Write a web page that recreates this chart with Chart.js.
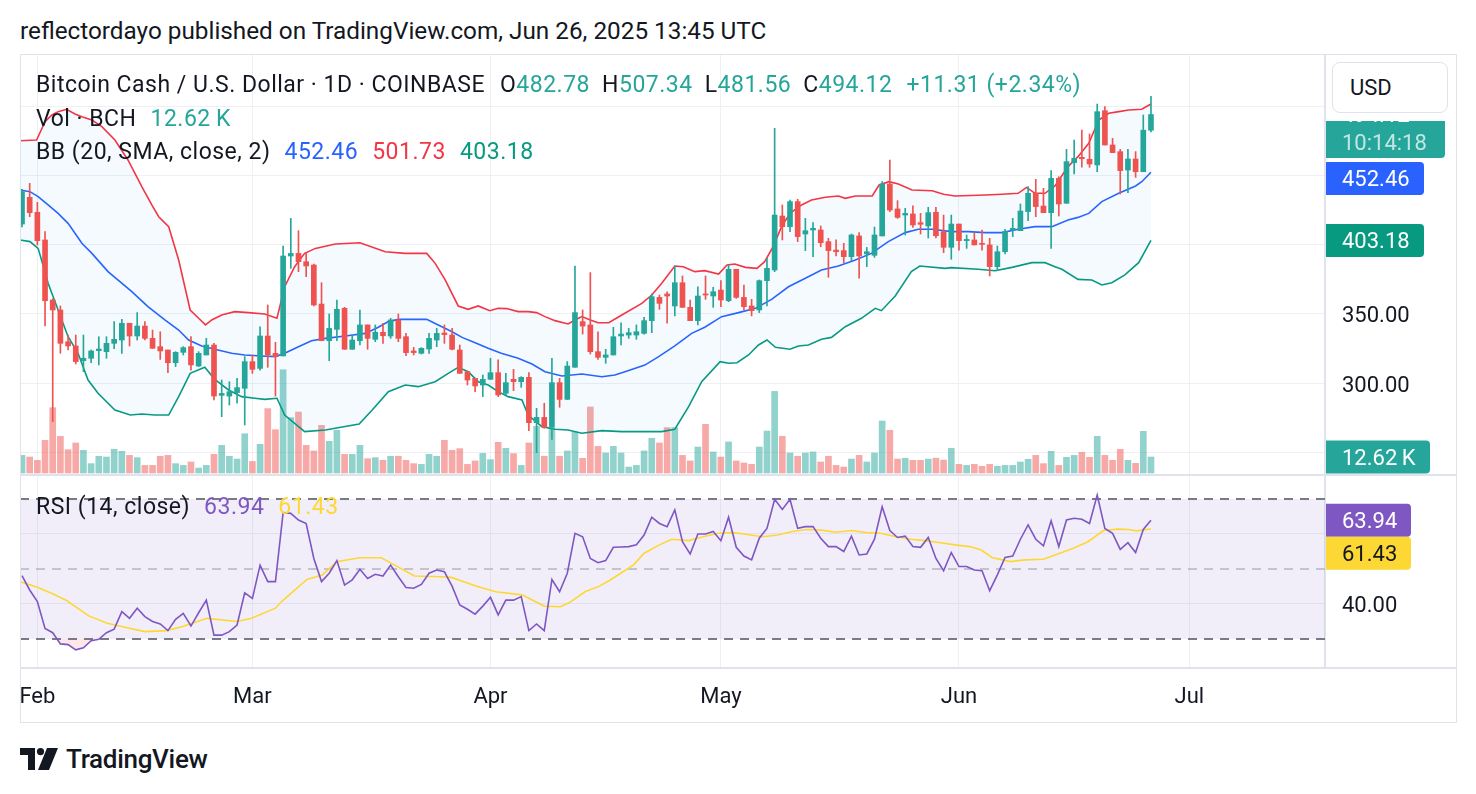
<!DOCTYPE html>
<html>
<head>
<meta charset="utf-8">
<title>BCHUSD 1D</title>
<script src="https://cdn.jsdelivr.net/npm/chart.js@4.4.1/dist/chart.umd.min.js"></script>
<style>
    body {
        margin: 0;
        width: 1476px;
        height: 794px;
        background: #fff;
        position: relative;
        overflow: hidden;
        font-family: Roboto, "Noto Sans", sans-serif;
        color: #131722;
    }
    canvas { position: absolute; }
    #published { position: absolute; left: 20px; top: 14px; font-size: 24.3px; line-height: 34px; white-space: nowrap; }
    .legend { position: absolute; left: 36px; font-size: 23px; letter-spacing: 0.5px; line-height: 30px; white-space: nowrap; }
    .legend .gap { margin-left: 14px; }
    .legend .k { margin-left: 12px; }
    .up { color: #26a69a; }
    .frame { position: absolute; left: 20px; top: 54px; width: 1435px; height: 667px; border: 1px solid #e0e3eb; pointer-events: none; }
    .sep { position: absolute; left: 20px; width: 1436px; height: 2px; background: #e0e3eb; }
    #usdWrap { position: absolute; left: 1326px; top: 55px; width: 129px; height: 66px; background: #fff; }
    #usd { position: absolute; left: 6px; top: 7px; border: 1px solid #e0e3eb; border-radius: 8px;
           font-size: 22px; line-height: 49px; padding-left: 17px; box-sizing: border-box; width: 116px; height: 51px; }
    #logo { position: absolute; left: 20px; top: 745px; height: 28px; display: flex; align-items: center; }
    #logo span { font-size: 26px; font-weight: 500; margin-left: 8px; letter-spacing: -0.3px; }
</style>
</head>
<body>
<div id="published">reflectordayo published on TradingView.com, Jun 26, 2025 13:45 UTC</div>

<canvas id="priceChart" width="1436" height="421" style="left:20px;top:54px"></canvas>
<canvas id="rsiChart" width="1436" height="246" style="left:20px;top:476px"></canvas>

<div class="sep" style="top:474px"></div>
<div class="sep" style="top:667px"></div>
<div class="frame"></div>
<div id="usdWrap"><div id="usd">USD</div></div>

<div class="legend" style="top:70px" id="legendMain"></div>
<div class="legend" style="top:104px" id="legendVol"></div>
<div class="legend" style="top:137px" id="legendBB"></div>
<div class="legend" style="top:492px" id="legendRsi"></div>

<div id="logo">
    <svg width="38" height="22" viewBox="0 0 38 22">
        <path d="M0 0 H15 V22 H8 V7 H0 Z" fill="#131722"/>
        <circle cx="20.5" cy="3.6" r="3.6" fill="#131722"/>
        <path d="M27 0 H38 L29 22 H18 Z" fill="#131722"/>
    </svg>
    <span>TradingView</span>
</div>

<script>
// daily candles, Jan 30 2025 (index 0) .. Jun 26 2025 (index 147)
const opens = [
    415, 434.3, 423.5, 403.5, 360.1, 352.9, 330, 326.9, 316.3, 318,
    323.5, 322.8, 328.8, 331.2, 343.3, 334.1, 341.3, 332.4, 326.4, 324,
    314.8, 322.3, 326.4, 312.4, 320.4, 327.6, 291.2, 290.7, 293.2, 296.3,
    315.6, 310.7, 334.1, 321.6, 319.7, 391.9, 393.8, 387.8, 385.4, 357.2,
    330.7, 338.9, 354.1, 324.5, 330.7, 342.1, 331.7, 336.8, 334.1, 345.7,
    333.6, 323.3, 321.6, 324.7, 331.2, 336.3, 334.8, 324, 308.3, 303.5,
    298.7, 302.8, 307.6, 292.7, 302.8, 301.1, 304.2, 271.5, 275.3, 268.1,
    300.4, 288.3, 311.5, 344.5, 342.1, 322.8, 318.7, 320.4, 334.1, 334.8,
    334.8, 336, 345.2, 362, 364.5, 355.8, 372.6, 354.8, 345.2, 364.5,
    363, 367.3, 359.6, 382.3, 362, 355.8, 352.9, 374.1, 381.8, 420.8,
    413.1, 431.2, 407.8, 410.7, 410.7, 402.3, 396.2, 395.8, 391.4, 406.4,
    393.4, 392.4, 406.4, 443.9, 425.9, 421.5, 422.3, 416, 413.6, 423.5,
    409.5, 398.2, 415, 403, 403.5, 401.1, 399.9, 384.2, 395, 410.7,
    410.2, 424, 437.2, 428, 423.2, 448, 430, 459.3, 463.2, 461.8,
    457.7, 496.9, 472.1, 467.3, 454, 462, 452.8, 482.78
];
const highs = [
    440, 444.4, 430.7, 409.5, 361, 355.8, 334.8, 334.8, 334.8, 324,
    333.6, 333.6, 344.5, 346.1, 343.3, 351, 344.5, 338.4, 337.2, 324,
    322.8, 326.4, 333.6, 322.8, 332.4, 328.8, 302.3, 301.1, 303.5, 319.2,
    320.4, 340.8, 356.5, 329.5, 399.1, 419.1, 410.2, 393.8, 386.1, 372.6,
    350, 360.1, 354.8, 334.8, 352.9, 342.1, 342.1, 343.3, 346.9, 350,
    336, 325.9, 325.7, 336, 339.6, 342.1, 339.6, 327.6, 308.3, 303.5,
    305.9, 318, 316.8, 307.1, 310, 304.7, 307.6, 281.8, 285.5, 318,
    303.5, 315.6, 384.7, 352.9, 379.9, 337.2, 324.5, 340.4, 343.7, 339.6,
    342.1, 347.6, 364.5, 363.7, 366.1, 384.7, 377.5, 360.1, 369.7, 377.5,
    369.3, 374.1, 385.4, 382.3, 370.9, 360.6, 374.6, 390.2, 484.2, 428.8,
    432.4, 432.9, 419.1, 416, 413.6, 404.7, 403.5, 401.1, 407.8, 408.8,
    398.1, 412.8, 445.6, 461.3, 431.9, 426.4, 428.1, 422.7, 427.1, 427.1,
    421.5, 421.5, 415, 407.1, 408.8, 410.7, 404.7, 399.1, 411.2, 419.1,
    429.5, 442, 447.3, 440.8, 453.6, 449.2, 469, 475.7, 482.9, 480.1,
    501.7, 499.8, 476.9, 469, 469, 467.3, 493.8, 507.34
];
const lows = [
    413, 420.3, 399.9, 341.3, 272.2, 321.6, 324, 313.9, 308.3, 314.8,
    313.2, 318, 325, 321.6, 326.9, 331.2, 331.2, 325.2, 317.2, 307.6,
    312, 320.4, 309.5, 312, 320.4, 287.9, 275.8, 284.2, 285.5, 269.8,
    307.1, 309.5, 311.5, 290.7, 319.7, 383, 380.6, 377, 355.8, 330.7,
    316.3, 330.7, 324.5, 324.5, 327.6, 324.5, 330, 328.8, 332.4, 330,
    319.9, 320.4, 321.1, 321.6, 326.4, 328.8, 324, 307.1, 298.7, 293.9,
    290.3, 302.8, 290.3, 291.5, 294.6, 297, 265.7, 249.8, 267.4, 259.4,
    282.6, 288.3, 311.5, 335.5, 321.1, 317.2, 314.4, 320.4, 327.6, 332.4,
    331.7, 335.5, 336.5, 353.4, 343.3, 348.6, 354.8, 345.2, 342.1, 360.6,
    354.8, 355.3, 358.9, 361.3, 352.9, 348.6, 351, 355.8, 380.6, 403.5,
    409.5, 402.3, 395.8, 391.4, 398.6, 376.5, 391.9, 387.1, 388.5, 375.8,
    384.2, 390.9, 406.4, 424, 419.1, 407.1, 412.6, 407.8, 404.9, 404.9,
    394.3, 389.5, 396.2, 397.4, 399.9, 396.2, 377.5, 381.3, 393.4, 405.9,
    410.2, 417.4, 420.3, 423.2, 397.4, 420.8, 430, 451.2, 456, 456,
    452.8, 472.1, 466.6, 436.7, 437.7, 448.7, 452.8, 481.56
];
const closes = [
    438.4, 423.2, 403, 359.6, 352.9, 328.8, 326.9, 315.6, 318, 323.3,
    324.7, 328.8, 331.7, 343.3, 334.1, 341.3, 332.4, 325.2, 323.3, 314.8,
    322.3, 325.7, 313.2, 321.6, 327.6, 290.7, 292.6, 293.9, 296.8, 315.6,
    310, 334.1, 320.4, 319.2, 391.9, 393.8, 387.8, 384.7, 356.5, 330.7,
    339.6, 353.4, 324.5, 331.2, 342.1, 332.4, 336.8, 334.3, 345.7, 332.4,
    322.1, 322.1, 325.2, 332.4, 336, 335.1, 324.5, 307.1, 302.3, 298,
    302.8, 307.6, 291.5, 300.4, 301.1, 304.2, 271.5, 275.3, 268.1, 300.4,
    288.3, 312.4, 351, 341.3, 322.8, 318.7, 320.4, 333.6, 335.5, 336.5,
    337.2, 345.2, 362.5, 357.7, 363, 372.6, 354.8, 345.2, 363, 363.7,
    366.1, 360.1, 382.3, 362, 355.3, 352.4, 374.1, 383, 421.5, 413.1,
    431.2, 405.9, 410.2, 411.9, 401.5, 395.8, 395, 391.4, 407.1, 391.9,
    395, 407.1, 443.9, 425.1, 419.8, 422.7, 414.3, 414.8, 423.2, 406.5,
    398.2, 415, 403, 403.9, 399.9, 400.3, 384.2, 395, 409.5, 411.9,
    424.4, 437.2, 427.6, 423.2, 448, 429.5, 460.1, 462.5, 462.2, 458.4,
    496.2, 472.1, 466.6, 453.6, 462, 452.8, 482.81, 494.12
];
// volume in thousands of BCH
const volumes = [
    13.9, 12.6, 10, 25.8, 51.5, 28.9, 18.4, 23.7, 17.9, 7.4,
    13.2, 12.6, 18.7, 17.1, 13.9, 12.1, 6, 6, 13.2, 13.9,
    7.4, 6, 8.7, 3.9, 6, 14.7, 21.8, 13.2, 11, 31,
    9.1, 22.6, 50.8, 34.2, 81.5, 43.7, 48.1, 21.8, 17.4, 37.6,
    25, 33.7, 14.7, 14.7, 21.8, 11.3, 12.1, 10, 13.2, 13.2,
    10, 7.4, 6.8, 14.7, 13.2, 25.8, 17.9, 19.2, 6.8, 9.5,
    15.5, 10.5, 24.2, 19.5, 15.3, 6, 23.7, 36.8, 13.2, 35,
    13.2, 17.4, 32.3, 11.6, 52.1, 21, 15.8, 21, 15.8, 4.7,
    6, 17.4, 27.4, 23.7, 35.8, 35.8, 13.9, 9.5, 20.5, 38.4,
    16.6, 12.6, 24.5, 9.5, 7.9, 6.8, 20.5, 33.1, 64.4, 28.9,
    15.8, 13.2, 15.8, 16.6, 8.7, 13.2, 6, 4.7, 11, 13.9,
    8.7, 15.8, 41, 33.7, 11, 11.6, 10, 10, 11, 11.7,
    10.2, 19.5, 6.8, 6, 6.8, 5.3, 6.8, 5.3, 6, 6,
    8.7, 10.8, 13.9, 7.4, 17.1, 6, 12.4, 13.9, 16.3, 12.4,
    28.9, 13.9, 10, 18.7, 10, 7.6, 32.9, 12.62
];

// Bollinger bands: [day index, price]
const bbUpper = [
    [-0.26, 475.2], [1.9, 475.7], [3.0, 489], [3.9, 493.8], [4.7, 496.2], [5.8, 497.9], [6.9, 494.5], [7.8, 492.6],
    [9.1, 490.2], [10.4, 485.4], [12.1, 475.7], [13.8, 461.3], [15.6, 442], [16.9, 428.8], [17.8, 420.3], [19.1, 413.1],
    [20.4, 389], [21.9, 352.9], [23.0, 346.9], [23.9, 342.1], [24.7, 345.7], [26.0, 349.3], [27.7, 351.7], [29.5, 351],
    [31.6, 350], [33.2, 346.9], [34.2, 369.7], [35.5, 384.2], [36.8, 393.8], [38.2, 397.4], [40.8, 400.6], [44.0, 401.5],
    [47.3, 395], [49.9, 393.8], [52.7, 393.8], [53.8, 386.6], [55.1, 374.6], [56.8, 355.8], [58.1, 353.4], [59.4, 355.8],
    [60.9, 352.4], [62.0, 354.1], [63.1, 353.9], [64.6, 351.7], [65.9, 351.7], [67.0, 351], [68.1, 348.1], [69.4, 345.2],
    [71.1, 342.8], [72.0, 345.7], [72.9, 348.1], [74.0, 345.7], [75.0, 343.7], [76.4, 343.7], [78.1, 349.3], [80.7, 357.7],
    [82.0, 363.7], [83.3, 372.2], [85.0, 384.7], [86.1, 384.2], [87.6, 380.6], [88.9, 381.3], [90.7, 378.9], [91.8, 385.4],
    [92.8, 386.1], [94.2, 383.7], [95.7, 383], [96.7, 387.8], [97.8, 398.7], [98.9, 413.1], [100.0, 422.7], [101.5, 428.8],
    [102.8, 432.4], [104.6, 434.3], [106.3, 435.3], [107.2, 433.6], [108.5, 435.3], [110.7, 435.3], [111.6, 443.2], [112.9, 445.6],
    [114.1, 443.9], [115.9, 439.6], [118.5, 439.1], [120.0, 436.5], [121.5, 435.3], [125.4, 436], [127.6, 436.5], [129.7, 437.2],
    [130.8, 441.5], [131.9, 437.2], [133.2, 437.2], [134.5, 442.5], [136.2, 456.5], [137.5, 463.7], [138.9, 473.3], [140.2, 490.2],
    [141.5, 495], [142.8, 496.2], [144.1, 497.4], [145.8, 497.9], [147, 501.73]
];
const bbMiddle = [
    [-0.26, 439.6], [1.04, 438.4], [2.1, 434.8], [3.4, 428.8], [4.7, 422.7], [6.0, 415.5], [7.8, 401.1], [9.1, 393.8],
    [11.2, 380.6], [14.3, 366.1], [16.4, 355.3], [18.6, 345.7], [20.4, 338.4], [21.7, 331.2], [23.4, 326.9], [25.1, 324.5],
    [27.3, 321.6], [29.0, 320.4], [31.2, 319.7], [33.0, 319.2], [34.2, 321.6], [36.0, 326.4], [37.7, 330.7], [39.5, 332.4],
    [42.1, 334.1], [44.7, 336], [46.4, 340.4], [47.7, 344.5], [49.0, 346.1], [52.7, 346.1], [54.2, 342.1], [56.0, 337.2],
    [57.3, 333.1], [59.0, 329.3], [60.7, 325.2], [62.4, 321.6], [64.6, 318], [66.4, 313.9], [68.1, 308.3], [70.3, 305.2],
    [72.9, 306.6], [75.5, 304.7], [77.2, 305.9], [78.9, 309], [81.1, 313.1], [82.9, 319.2], [85.0, 326.9], [87.2, 336],
    [88.9, 340.4], [91.1, 348.1], [93.3, 351], [95.5, 354.1], [97.6, 360.6], [99.8, 369.7], [102.0, 375.8], [104.1, 381.8],
    [106.3, 384.7], [108.5, 389], [110.6, 393.8], [112.8, 402.3], [115.0, 408.8], [116.7, 411.2], [118.5, 411.2], [121.0, 409.5],
    [123.2, 409.5], [125.4, 408.8], [127.6, 408.8], [129.7, 411.2], [131.9, 413.1], [134.1, 413.1], [136.2, 417.9], [137.5, 419.8],
    [138.9, 422.7], [140.6, 431.2], [142.8, 437.2], [145.0, 442.5], [145.8, 445.6], [147, 452.46]
];
const bbLower = [
    [-0.26, 403.5], [1.04, 402.3], [2.1, 397.4], [2.8, 384.2], [3.4, 372.2], [4.7, 352.9], [6.0, 333.6], [7.3, 321.6],
    [8.6, 302.3], [9.9, 292.7], [12.1, 280.6], [14.1, 277], [15.6, 277.7], [17.3, 277], [19.1, 277], [20.4, 290.3],
    [21.9, 307.1], [23.8, 311.5], [25.1, 302.8], [26.9, 295.1], [28.6, 290.3], [30.3, 289.1], [31.6, 288.3], [33.2, 289.1],
    [34.2, 277], [36.8, 265], [39.5, 266.2], [43.9, 270.5], [45.6, 280.6], [47.7, 293.9], [49.9, 298.7], [51.6, 297.5],
    [53.8, 301.1], [55.5, 307.1], [56.8, 311.5], [58.1, 308.3], [59.4, 301.1], [60.7, 298.7], [62.0, 293.9], [63.3, 290.3],
    [65.1, 287.9], [65.9, 277], [67.7, 268.6], [69.4, 266.7], [71.1, 266.2], [72.9, 263.8], [75.5, 265.7], [78.1, 265],
    [80.7, 265], [83.3, 265], [85.0, 266.7], [86.8, 283], [88.5, 301.1], [90.9, 315.6], [92.0, 314.4], [93.1, 314.8],
    [94.6, 320.4], [95.9, 327.6], [97.0, 331.2], [98.1, 325.9], [100.0, 324.5], [101.1, 326.9], [102.4, 327.6], [104.1, 331.7],
    [105.4, 333.1], [107.2, 340.8], [109.3, 346.9], [111.1, 354.1], [111.9, 352.4], [113.7, 363], [115.8, 380.6], [116.9, 384.7],
    [120.2, 383], [121.0, 383.5], [124.5, 382.3], [126.7, 381.3], [128.9, 383.7], [131.5, 387.1], [133.2, 387.1], [134.5, 384.2],
    [135.4, 382.3], [137.5, 375], [139.3, 374.6], [140.6, 371], [141.9, 372.6], [143.6, 378.2], [145.4, 387.1], [147, 403.18]
];

// RSI(14) per candle and its moving average
const rsi = [
    48.1, 44.0, 40.7, 33.0, 31.8, 28.6, 28.4, 26.9, 27.5, 29.5,
    29.9, 31.8, 32.8, 37.8, 35.9, 38.8, 36.4, 35.0, 34.3, 32.4,
    35.6, 37.3, 33.7, 37.5, 41.1, 31.1, 31.1, 32.1, 34.0, 43.2,
    41.6, 51.1, 46.4, 46.4, 66.1, 65.9, 64.0, 63.0, 53.0, 46.4,
    48.8, 52.4, 45.4, 46.9, 49.9, 47.3, 48.5, 48.0, 51.1, 47.8,
    44.7, 44.5, 45.6, 48.8, 49.7, 49.2, 45.1, 39.7, 38.5, 37.1,
    39.4, 41.9, 36.9, 41.1, 41.1, 42.1, 32.4, 34.3, 32.4, 47.0,
    43.5, 48.8, 60.2, 59.2, 53.0, 51.8, 52.4, 56.2, 56.3, 56.4,
    56.9, 59.7, 64.8, 63.0, 62.1, 66.9, 57.8, 54.3, 60.0, 60.0,
    60.7, 58.1, 64.8, 56.2, 53.7, 52.6, 58.8, 61.6, 69.9, 67.0,
    69.9, 61.6, 62.1, 62.1, 58.8, 56.4, 56.4, 55.0, 59.4, 54.0,
    54.3, 58.5, 67.8, 61.0, 59.0, 59.4, 56.4, 56.2, 59.0, 53.0,
    49.5, 54.7, 50.7, 50.7, 49.7, 49.5, 43.8, 48.3, 53.3, 53.7,
    58.5, 62.6, 58.5, 56.6, 63.8, 56.4, 64.0, 64.5, 64.2, 63.0,
    71.1, 61.6, 60.2, 55.6, 57.5, 54.7, 61.3, 63.94
];
const rsiMa = [
    [-0.3, 46.4], [2.0, 44.8], [3.9, 43], [5.8, 41], [8.7, 36.6], [11.1, 34.5], [13.1, 33.5], [16.0, 32.1],
    [18.8, 32.4], [20.8, 33.5], [24.1, 35.9], [28.0, 35], [29.9, 35.9], [33.0, 38.8], [33.8, 40.7], [37.1, 47],
    [39.1, 48.3], [41.0, 52.1], [43.9, 53.2], [46.8, 53.2], [48.7, 50.9], [51.1, 48], [54.5, 47.8], [55.9, 47.6],
    [59.3, 45], [61.7, 43.5], [65.1, 42.6], [68.0, 39.4], [70.1, 39.2], [71.3, 40.4], [73.3, 43.5], [75.2, 45.1],
    [76.7, 47], [78.1, 49], [79.6, 51.1], [81.0, 54.5], [83.0, 56.9], [84.6, 58.5], [86.8, 58.1], [88.7, 59.2],
    [90.7, 60.2], [92.6, 60.4], [94.0, 60], [96.4, 59.2], [98.4, 59.7], [100.3, 60.7], [102.2, 61.3], [104.1, 61.1],
    [106.0, 60.5], [108.0, 61], [109.9, 60.4], [111.8, 60.2], [113.8, 59.2], [115.7, 58.5], [117.6, 58.1], [119.6, 57.5],
    [121.5, 56.9], [123.4, 56.4], [124.9, 55.4], [126.3, 53.3], [128.7, 52.1], [130.6, 52.6], [133.0, 52.8], [134.5, 54],
    [136.9, 55.9], [138.8, 57.8], [140.8, 61], [142.7, 61.4], [144.1, 61.3], [145.1, 60.9], [147, 61.43]
];

// axis ticks
const monthTicks = [2, 30, 61, 91, 122, 152];
const monthLabels = ['Feb', 'Mar', 'Apr', 'May', 'Jun', 'Jul'];
const priceGrid = [250, 300, 350, 400, 450, 500];
const priceTickLabels = [300, 350];
const rsiGrid = [40, 60];
const rsiTickLabels = [40];
const rsiLevels = [30, 50, 70];
const countdown = '10:14:18';

const green = '#26a69a';
const red = '#ef5350';
const gridColor = '#eef0f4';
const axisFont = { family: 'Roboto', size: 22 };

const last = closes.length - 1;
const change = closes[last] - closes[last - 1];
const changePct = change / closes[last - 1] * 100;
const bbMidLast = bbMiddle[bbMiddle.length - 1][1];
const bbUpLast = bbUpper[bbUpper.length - 1][1];
const bbLowLast = bbLower[bbLower.length - 1][1];
const rsiMaLast = rsiMa[rsiMa.length - 1][1];

document.getElementById('legendMain').innerHTML =
    'Bitcoin Cash / U.S. Dollar · 1D · COINBASE' +
    `<span class="k" style="margin-left:15px">O</span><span class="up">${opens[last].toFixed(2)}</span>` +
    `<span class="k">H</span><span class="up">${highs[last].toFixed(2)}</span>` +
    `<span class="k">L</span><span class="up">${lows[last].toFixed(2)}</span>` +
    `<span class="k">C</span><span class="up">${closes[last].toFixed(2)}</span>` +
    `<span class="up gap">+${change.toFixed(2)} (+${changePct.toFixed(2)}%)</span>`;
document.getElementById('legendVol').innerHTML =
    `Vol · BCH<span class="up gap">${volumes[last].toFixed(2)}\u2009K</span>`;
document.getElementById('legendBB').innerHTML =
    'BB (20, SMA, close, 2)' +
    `<span class="gap" style="color:#2962ff">${bbMidLast.toFixed(2)}</span>` +
    `<span class="gap" style="color:#f23645">${bbUpLast.toFixed(2)}</span>` +
    `<span class="gap" style="color:#089981">${bbLowLast.toFixed(2)}</span>`;
document.getElementById('legendRsi').innerHTML =
    'RSI (14, close)' +
    `<span class="gap" style="color:#7e57c2">${rsi[last].toFixed(2)}</span>` +
    `<span class="gap" style="color:#fdd835">${rsiMaLast.toFixed(2)}</span>`;

// coloured value boxes on the right axis
const axisBoxes = {
    id: 'axisBoxes',
    afterDraw(chart, args, opts) {
        const ctx = chart.ctx;
        const x = chart.chartArea.right + 1;
        let lastBottom = -Infinity;
        ctx.save();
        ctx.font = '22px Roboto';
        ctx.textBaseline = 'middle';
        opts.items.forEach(item => {
            const y = chart.scales[item.axis].getPixelForValue(item.value);
            const h = item.sub ? 60 : 33;
            let top = y - 16.5;
            if (top < lastBottom + opts.gap) top = lastBottom + opts.gap;
            lastBottom = top + h;
            ctx.fillStyle = item.bg;
            ctx.beginPath();
            ctx.roundRect(x, top, item.w, h, [0, 4, 4, 0]);
            ctx.fill();
            ctx.fillStyle = item.color || '#fff';
            ctx.fillText(item.text, x + 16, top + 18.5);
            if (item.sub) {
                ctx.fillStyle = 'rgba(255,255,255,0.72)';
                ctx.fillText(item.sub, x + 16, top + 46.5);
            }
        });
        ctx.restore();
    }
};

// RSI background band and dashed levels
const rsiBand = {
    id: 'rsiBand',
    beforeDatasetsDraw(chart) {
        const { ctx, chartArea: a, scales: { y } } = chart;
        const top = y.getPixelForValue(rsiLevels[2]);
        const bottom = y.getPixelForValue(rsiLevels[0]);
        ctx.save();
        ctx.fillStyle = 'rgba(126, 87, 194, 0.1)';
        ctx.fillRect(a.left, top, a.right - a.left, bottom - top);
        ctx.setLineDash([9, 7]);
        rsiLevels.forEach(level => {
            const py = Math.round(y.getPixelForValue(level));
            ctx.strokeStyle = level === 50 ? '#b2b5be' : '#787b86';
            ctx.lineWidth = level === 50 ? 1.5 : 2;
            ctx.beginPath();
            ctx.moveTo(a.left, py);
            ctx.lineTo(a.right, py);
            ctx.stroke();
        });
        ctx.restore();
    }
};

// drop the label padding chart.js keeps around each axis
const noPad = s => {
    s.paddingTop = 0;
    s.paddingBottom = 0;
    s.paddingLeft = 0;
    s.paddingRight = 0;
};

const up = closes.map((c, i) => c >= opens[i]);

const xScale = {
    type: 'linear',
    min: -0.26,
    max: 169.66,
    offset: false,
    afterBuildTicks: s => { s.ticks = monthTicks.map(v => ({ value: v })); },
    grid: { color: gridColor, lineWidth: 1, drawTicks: false, offset: false },
    border: { display: false }
};

new Chart(document.getElementById('priceChart'), {
    type: 'bar',
    data: {
        datasets: [
            {
                type: 'bar',
                data: volumes.map((v, i) => ({ x: i, y: v })),
                yAxisID: 'yVol',
                backgroundColor: up.map(u => u ? 'rgba(38,166,154,0.5)' : 'rgba(239,83,80,0.5)'),
                barThickness: 6,
                grouped: false,
                order: 10
            },
            {
                type: 'line',
                data: bbUpper.map(([x, y]) => ({ x, y })),
                borderColor: '#f23645',
                backgroundColor: 'rgba(33,150,243,0.05)',
                borderWidth: 1.6,
                fill: '+2',
                pointRadius: 0,
                order: 5
            },
            {
                type: 'line',
                data: bbMiddle.map(([x, y]) => ({ x, y })),
                borderColor: '#2962ff',
                borderWidth: 1.6,
                fill: false,
                pointRadius: 0,
                order: 5
            },
            {
                type: 'line',
                data: bbLower.map(([x, y]) => ({ x, y })),
                borderColor: '#089981',
                borderWidth: 1.6,
                fill: false,
                pointRadius: 0,
                order: 5
            },
            {
                type: 'bar',
                data: highs.map((h, i) => ({ x: i, y: [lows[i], h] })),
                backgroundColor: up.map(u => u ? green : red),
                barThickness: 1,
                grouped: false,
                order: 2
            },
            {
                type: 'bar',
                data: opens.map((o, i) => ({ x: i, y: [o, closes[i]] })),
                backgroundColor: up.map(u => u ? green : red),
                barThickness: 5,
                minBarLength: 1,
                grouped: false,
                order: 1
            }
        ]
    },
    options: {
        responsive: false,
        animation: false,
        events: [],
        layout: { padding: 0 },
        plugins: {
            legend: { display: false },
            tooltip: { enabled: false },
            axisBoxes: {
                gap: 4,
                items: [
                    { axis: 'y', value: closes[last], text: closes[last].toFixed(2), sub: countdown, bg: green, w: 119 },
                    { axis: 'y', value: bbMidLast, text: bbMidLast.toFixed(2), bg: '#2962ff', w: 98 },
                    { axis: 'y', value: bbLowLast, text: bbLowLast.toFixed(2), bg: '#089981', w: 98 },
                    { axis: 'yVol', value: volumes[last], text: volumes[last].toFixed(2) + '\u2009K', bg: green, w: 104 }
                ]
            }
        },
        scales: {
            x: { ...xScale, ticks: { display: false }, afterFit: s => { s.height = 0; noPad(s); } },
            y: {
                position: 'right',
                min: 233.67,
                max: 537.86,
                afterBuildTicks: s => { s.ticks = priceGrid.map(v => ({ value: v })); },
                ticks: {
                    callback: v => priceTickLabels.includes(v) ? v.toFixed(2) : '',
                    color: '#131722',
                    font: axisFont,
                    padding: 17,
                    labelOffset: 3
                },
                grid: { color: gridColor, lineWidth: 1, drawTicks: false },
                border: { color: '#e0e3eb', width: 2 },
                afterFit: s => { s.width = 131; noPad(s); }
            },
            yVol: { display: false, min: -1.58, max: 330.6 }
        }
    },
    plugins: [axisBoxes]
});

new Chart(document.getElementById('rsiChart'), {
    type: 'line',
    data: {
        datasets: [
            {
                data: rsi.map((v, i) => ({ x: i, y: v })),
                borderColor: '#7e57c2',
                borderWidth: 1.6,
                pointRadius: 0,
                fill: { target: { value: rsiLevels[0] }, above: 'rgba(0,0,0,0)', below: 'rgba(242,54,69,0.12)' }
            },
            {
                data: rsiMa.map(([x, y]) => ({ x, y })),
                borderColor: '#fdd835',
                borderWidth: 1.6,
                pointRadius: 0,
                fill: false
            }
        ]
    },
    options: {
        responsive: false,
        animation: false,
        events: [],
        layout: { padding: 0 },
        plugins: {
            legend: { display: false },
            tooltip: { enabled: false },
            axisBoxes: {
                gap: 0,
                items: [
                    { axis: 'y', value: rsi[last], text: rsi[last].toFixed(2), bg: '#7e57c2', w: 85 },
                    { axis: 'y', value: rsiMaLast, text: rsiMaLast.toFixed(2), bg: '#fdd835', color: '#131722', w: 85 }
                ]
            }
        },
        scales: {
            x: {
                ...xScale,
                ticks: {
                    autoSkip: false,
                    maxRotation: 0,
                    color: '#131722',
                    font: axisFont,
                    padding: 16,
                    callback: v => monthLabels[monthTicks.indexOf(v)]
                },
                afterFit: s => { s.height = 54; noPad(s); }
            },
            y: {
                position: 'right',
                min: 21.71,
                max: 76.57,
                afterBuildTicks: s => { s.ticks = rsiGrid.map(v => ({ value: v })); },
                ticks: {
                    callback: v => rsiTickLabels.includes(v) ? v.toFixed(2) : '',
                    color: '#131722',
                    font: axisFont,
                    padding: 17,
                    labelOffset: 3
                },
                grid: { color: gridColor, lineWidth: 1, drawTicks: false },
                border: { color: '#e0e3eb', width: 2 },
                afterFit: s => { s.width = 131; noPad(s); }
            }
        }
    },
    plugins: [rsiBand, axisBoxes]
});
</script>
</body>
</html>
